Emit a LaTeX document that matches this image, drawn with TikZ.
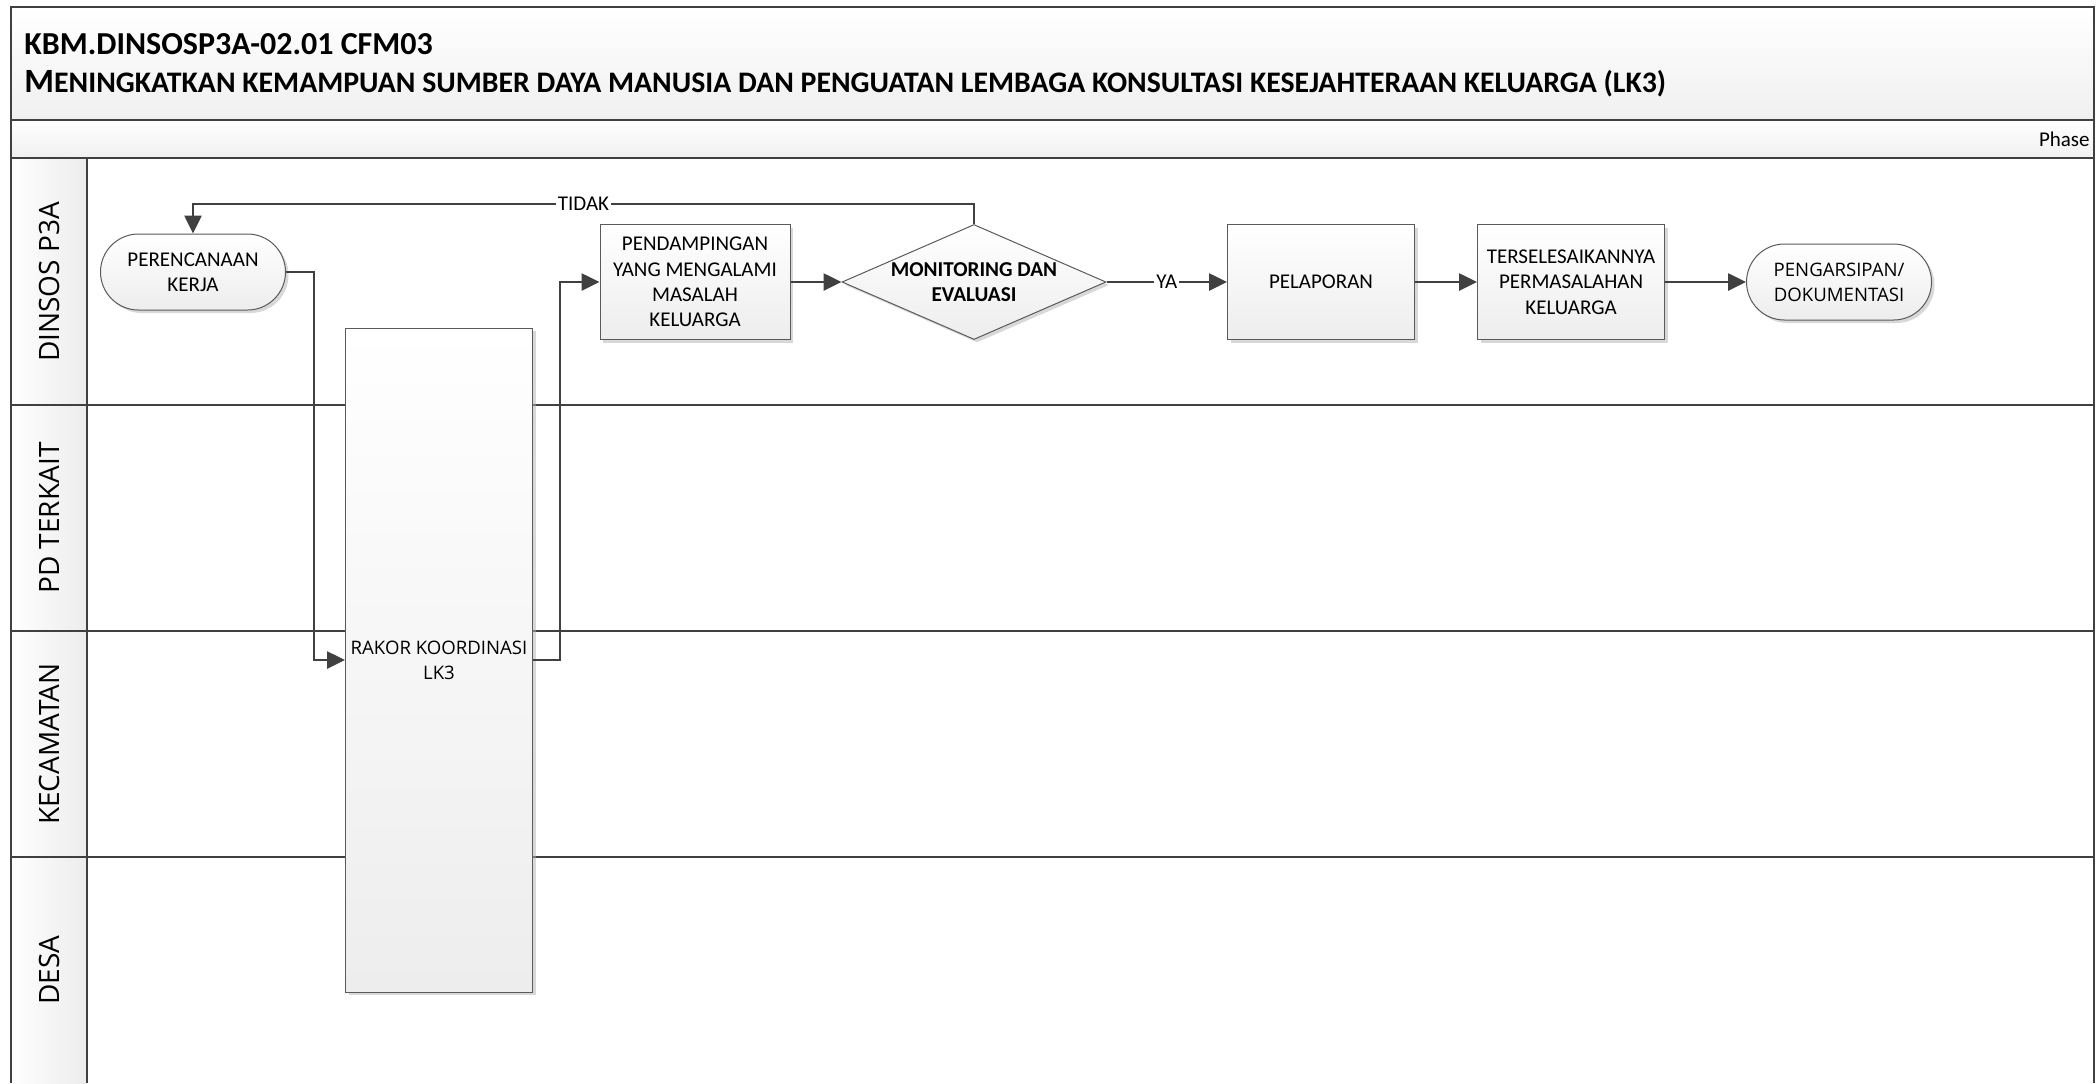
\documentclass[tikz,border=0pt]{standalone}
\usepackage{fontspec}
\setmainfont{Carlito}
\newfontfamily\segoe{Open Sans}
\usetikzlibrary{arrows.meta,shapes.misc,shapes.geometric,shadows}

\definecolor{linegray}{HTML}{404040}
\definecolor{boxgray}{HTML}{5A5A5A}
\definecolor{fillgray}{HTML}{EDEDED}

\tikzset{
  lane/.style={draw=linegray,line width=1pt},
  proses/.style={rectangle,draw=boxgray,line width=0.5pt,top color=white,bottom color=fillgray,
    drop shadow={shadow xshift=1.5pt,shadow yshift=-1.5pt,fill=black!30,opacity=0.5},
    font=\fontsize{10.5}{12.7}\selectfont,align=center,inner sep=1pt},
  terminal/.style={proses,rounded rectangle},
  keputusan/.style={proses,diamond,inner sep=0pt},
  alur/.style={draw=linegray,line width=1.3pt,-{Triangle[length=9pt,width=8.5pt]}},
  ket/.style={fill=white,inner sep=1pt,font=\fontsize{10.5}{12.7}\selectfont},
  lanelabel/.style={rotate=90,font=\segoe\fontsize{14}{16}\selectfont}
}

\begin{document}
\begin{tikzpicture}[x=0.5pt,y=-0.5pt]
	\useasboundingbox (0,0) rectangle (2097,1083);
	
	%header
	\shade[top color=white,bottom color=gray!12] (11,7) rectangle (2094,120);
	\shade[top color=white,bottom color=gray!12] (11,120) rectangle (2094,158);
	\shade[left color=white,right color=gray!15] (11,158) rectangle (87,1083);
	\draw[lane] (11,1083) -- (11,7) -- (2094,7) -- (2094,1083);
	\draw[lane,line width=1.3pt] (11,120) -- (2094,120);
	\draw[lane,line width=1.3pt] (11,158) -- (2094,158);
	\node[anchor=west,inner sep=0pt,font=\bfseries\fontsize{16}{19}\selectfont] (judul) at (24,44) {KBM.DINSOSP3A-02.01 CFM03};
	\node[anchor=west,inner sep=0pt,font=\bfseries] (judulb) at (24,84) {{\fontsize{17}{20}\selectfont M}{\fontsize{14.9}{18}\selectfont ENINGKATKAN KEMAMPUAN SUMBER DAYA MANUSIA DAN PENGUATAN LEMBAGA KONSULTASI KESEJAHTERAAN KELUARGA (LK3)}};
	\node[anchor=east,inner sep=0pt,font=\fontsize{10.5}{12}\selectfont] (fase) at (2090,139) {Phase};
	
	%lanes
	\draw[lane] (87,158) -- (87,1083);
	\draw[lane] (11,405) -- (2094,405);
	\draw[lane] (11,631) -- (2094,631);
	\draw[lane] (11,857) -- (2094,857);
	\node[lanelabel] (dinsos) at (49,282) {DINSOS P3A};
	\node[lanelabel] (pd) at (49,518) {PD TERKAIT};
	\node[lanelabel] (kec) at (49,744) {KECAMATAN};
	\node[lanelabel] (desa) at (49,970) {DESA};
	
	%shapes
	\node[terminal,minimum width=94.5pt,minimum height=38pt] (rencana) at (193,272) {PERENCANAAN\\KERJA};
	\node[proses,minimum width=93.5pt,minimum height=332pt,font=\segoe\fontsize{9.3}{12.5}\selectfont] (rakor) at (439,660) {RAKOR KOORDINASI\\LK3};
	\node[proses,minimum width=95pt,minimum height=57.5pt] (damping) at (695,282) {PENDAMPINGAN\\YANG MENGALAMI\\MASALAH\\KELUARGA};
	\node[keputusan,minimum width=132pt,minimum height=57.5pt] (monev) at (974,282) {};
	\node[align=center,font=\bfseries\fontsize{10.6}{12.7}\selectfont] (monevtxt) at (monev) {MONITORING DAN\\EVALUASI};
	\node[proses,minimum width=93.5pt,minimum height=57.5pt] (lapor) at (1321,282) {PELAPORAN};
	\node[proses,minimum width=93.5pt,minimum height=57.5pt] (selesai) at (1571,282) {TERSELESAIKANNYA\\PERMASALAHAN\\KELUARGA};
	\node[terminal,minimum width=94.5pt,minimum height=38pt,font=\segoe\fontsize{9.3}{12.5}\selectfont] (arsip) at (1839,282) {PENGARSIPAN/\\DOKUMENTASI};
	
	%arrows
	\draw[alur] (rencana.east) -- ++(28,0) |- (rakor.west);
	\draw[alur] (rakor.east) -- ++(27,0) |- (damping.west);
	\draw[alur] (damping.east) -- (monev.west);
	\draw[alur] (monev.east) -- node[ket] (ya) {YA} (lapor.west);
	\draw[alur] (lapor.east) -- (selesai.west);
	\draw[alur] (selesai.east) -- (arsip.west);
	\draw[alur] (monev.north) -- ++(0,-20) -| node[ket,pos=0.25] (tidak) {TIDAK} (rencana.north);
\end{tikzpicture}
\end{document}
